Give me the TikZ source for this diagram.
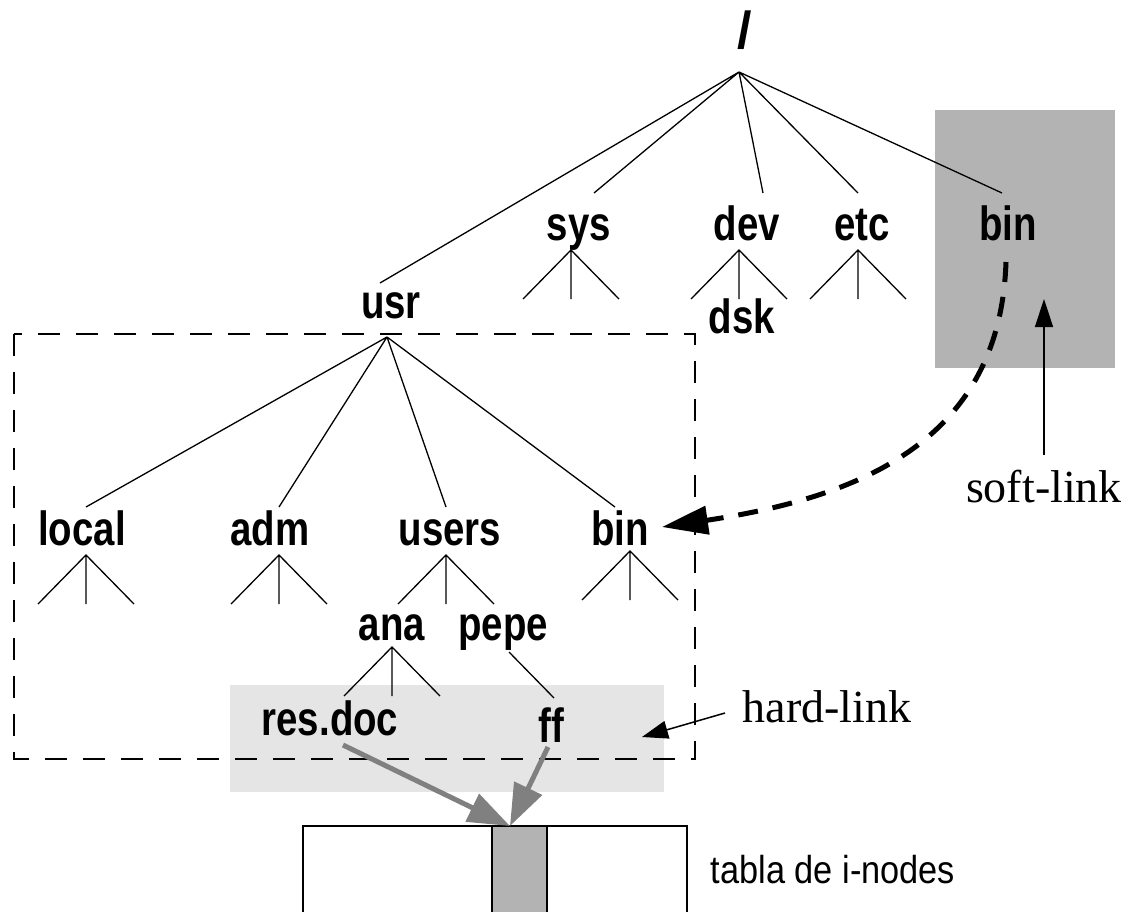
\documentclass[tikz,border=0pt]{standalone}
\usepackage{fontspec}
\usetikzlibrary{arrows.meta}
\newfontfamily\lblfont[FakeStretch=0.80]{Liberation Sans}
\newfontfamily\rootfont{Liberation Sans}
\newfontfamily\tblfont[FakeStretch=0.88]{Liberation Sans}
\newfontfamily\linkfont{Liberation Serif}
\definecolor{softgray}{HTML}{B3B3B3}
\definecolor{hardgray}{HTML}{E5E5E5}
\definecolor{arrowgray}{HTML}{808080}
\tikzset{
  lbl/.style={font=\lblfont\bfseries\fontsize{48}{48}\selectfont, anchor=base, inner sep=0pt},
  rootlbl/.style={font=\rootfont\bfseries\fontsize{52}{52}\selectfont, anchor=base, inner sep=0pt},
  tbl/.style={font=\tblfont\fontsize{39}{39}\selectfont, anchor=base, inner sep=0pt},
  linklbl/.style={font=\linkfont\fontsize{46}{46}\selectfont, anchor=base, inner sep=0pt},
  edge/.style={line width=1.3pt},
  fan/.pic={\draw[edge] (-48,49) -- (0,0) -- (48,49) (0,0) -- (0,49);},
  dirbox/.style={draw, line width=2.6pt, dash pattern=on 22pt off 16pt},
  softarrow/.style={line width=5pt, dash pattern=on 20pt off 15pt,
    -{Triangle[length=46pt,width=28pt]}},
  hardarrow/.style={draw=arrowgray, line width=5pt,
    -{Triangle[length=42pt,width=30pt,fill=arrowgray]}},
  notearrow/.style={line width=1.5pt, -{Triangle[length=28pt,width=18pt]}},
}
\begin{document}
\begin{tikzpicture}[x=1pt,y=-1pt]
\useasboundingbox (0,0) rectangle (1128,911);

% shaded areas
\fill[softgray] (935,110) rectangle (1115,368);
\fill[hardgray] (230,685) rectangle (664,792);

% i-node table with the shared entry
\draw[line width=1.4pt] (303,915) |- (687,826) -- (687,915);
\filldraw[fill=softgray, line width=1.4pt] (492,915) rectangle (547,826);
\coordinate (inode) at (510,826);
\node[tbl] (table) at (833,883) {tabla de i-nodes};

% directory labels
\node[rootlbl] (root) at (745,48) {/};
\node[lbl] (usr)  at (391,318) {usr};
\node[lbl] (sys)  at (579,240) {sys};
\node[lbl] (dev)  at (747,240) {dev};
\node[lbl] (etc)  at (862,240) {etc};
\node[lbl] (bin)  at (1008,240) {bin};
\node[lbl] (dsk)  at (742,333) {dsk};
\node[lbl] (local) at (82,545) {local};
\node[lbl] (adm)  at (270,545) {adm};
\node[lbl] (users) at (450,545) {users};
\node[lbl] (ubin) at (620,545) {bin};
\node[lbl] (ana)  at (392,640) {ana};
\node[lbl] (pepe) at (503,640) {pepe};
\node[lbl] (resdoc) at (330,735) {res.doc};
\node[lbl] (ff)   at (551,742) {ff};

% connection points of the tree
\coordinate (rootp) at (739,72);
\coordinate (usr-in) at (380,283);
\coordinate (sys-in) at (594,193);
\coordinate (dev-in) at (763,193);
\coordinate (etc-in) at (858,193);
\coordinate (bin-in) at (1002,193);
\coordinate (usrp) at (387,337);
\coordinate (local-in) at (86,507);
\coordinate (adm-in) at (279,507);
\coordinate (users-in) at (446,507);
\coordinate (ubin-in) at (615,507);
\coordinate (pepe-out) at (509,652);
\coordinate (ff-in) at (554,698);

% tree edges
\draw[edge] (rootp) -- (usr-in) (rootp) -- (sys-in) (rootp) -- (dev-in)
  (rootp) -- (etc-in) (rootp) -- (bin-in);
\draw[edge] (usrp) -- (local-in) (usrp) -- (adm-in) (usrp) -- (users-in)
  (usrp) -- (ubin-in);
\draw[edge] (pepe-out) -- (ff-in);

% subtrees
\pic at (571,250) {fan};
\pic at (739,250) {fan};
\pic at (858,250) {fan};
\pic at (86,555) {fan};
\pic at (279,555) {fan};
\pic at (446,555) {fan};
\pic at (630,551) {fan};
\pic at (392,647) {fan};

% /usr subtree frame
\draw[dirbox] (14,334) rectangle (695,759);

% soft link
\coordinate (sl-start) at (1006,262);
\coordinate (sl-end) at (662,527);
\draw[softarrow] (sl-start) .. controls (1000,440) and (862,497) .. (sl-end);
\node[linklbl] (softlink) at (1044,502) {soft-link};
\coordinate (softtip) at (1044,299);
\draw[notearrow] (1044,455) -- (softtip);

% hard links
\coordinate (resdoc-out) at (343,745);
\coordinate (ff-out) at (548,747);
\draw[hardarrow] (resdoc-out) -- (inode);
\draw[hardarrow] (ff-out) -- (inode);
\node[linklbl] (hardlink) at (827,722) {hard-link};
\coordinate (hl-tip) at (642,737);
\draw[notearrow, -{Triangle[length=26pt,width=18pt]}] (725,713) -- (hl-tip);
\end{tikzpicture}
\end{document}
